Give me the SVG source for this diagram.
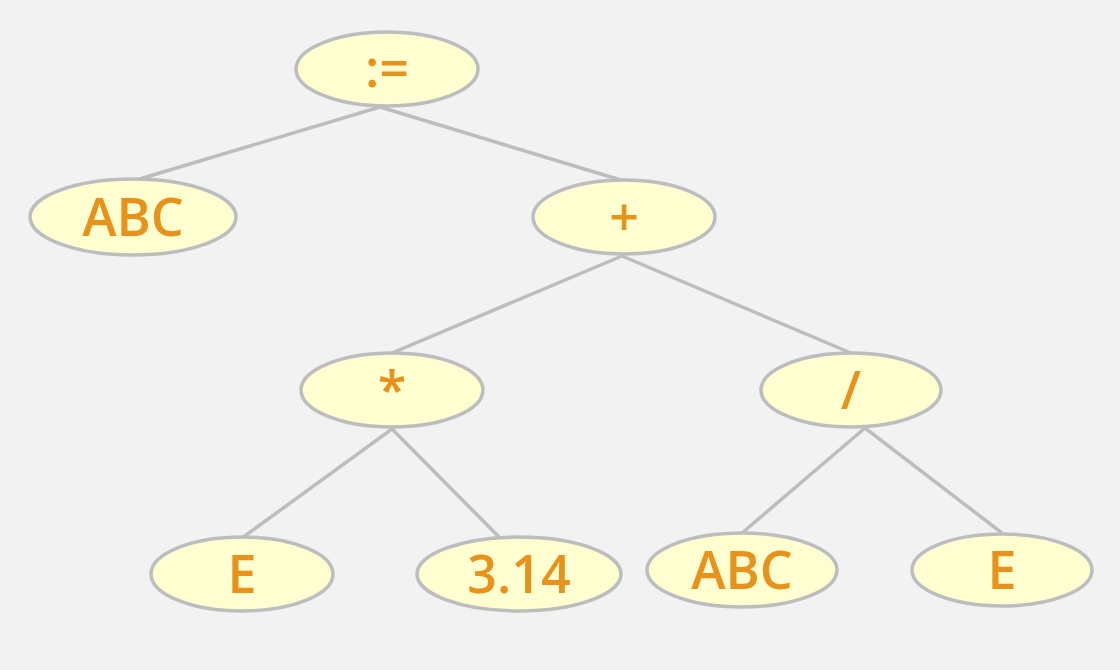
<svg xmlns="http://www.w3.org/2000/svg" width="1120" height="670" viewBox="0 0 1120 670">
<style>
.n ellipse{fill:#FEFED0;stroke:#BDBDBD;stroke-width:3.5}
.n text{font-family:"Open Sans","DejaVu Sans",sans-serif;font-weight:600;font-size:52px;fill:#E8921C;text-anchor:middle}
#edges line{stroke:#BDBDBD;stroke-width:3.5}
</style>
<rect width="1120" height="670" fill="#F2F2F2"/>
<g id="edges">
<line x1="380" y1="107" x2="133" y2="181"/>
<line x1="380" y1="107" x2="624" y2="181"/>
<line x1="622" y1="256" x2="392" y2="353"/>
<line x1="622" y1="256" x2="851" y2="353"/>
<line x1="392" y1="429" x2="242" y2="538"/>
<line x1="392" y1="429" x2="500" y2="538"/>
<line x1="865" y1="428" x2="742" y2="533"/>
<line x1="865" y1="428" x2="1002" y2="533"/>
</g>
<g id="n_assign" class="n"><ellipse cx="387" cy="69" rx="91" ry="37"/><text x="387" y="87">:=</text></g>
<g id="n_abc1" class="n"><ellipse cx="133" cy="217" rx="103" ry="38"/><text x="133" y="236">ABC</text></g>
<g id="n_plus" class="n"><ellipse cx="624" cy="217" rx="91" ry="37"/><text x="624" y="236">+</text></g>
<g id="n_mul" class="n"><ellipse cx="392" cy="390" rx="91" ry="37"/><text x="392" y="409">*</text></g>
<g id="n_div" class="n"><ellipse cx="851" cy="390" rx="90" ry="37"/><text x="851" y="409">/</text></g>
<g id="n_e1" class="n"><ellipse cx="242" cy="574" rx="91" ry="37"/><text x="242" y="593">E</text></g>
<g id="n_314" class="n"><ellipse cx="519" cy="574" rx="102" ry="37"/><text x="519" y="593">3.14</text></g>
<g id="n_abc2" class="n"><ellipse cx="742" cy="570" rx="95" ry="37"/><text x="742" y="589">ABC</text></g>
<g id="n_e2" class="n"><ellipse cx="1002" cy="570" rx="90" ry="36"/><text x="1002" y="589">E</text></g>
</svg>
